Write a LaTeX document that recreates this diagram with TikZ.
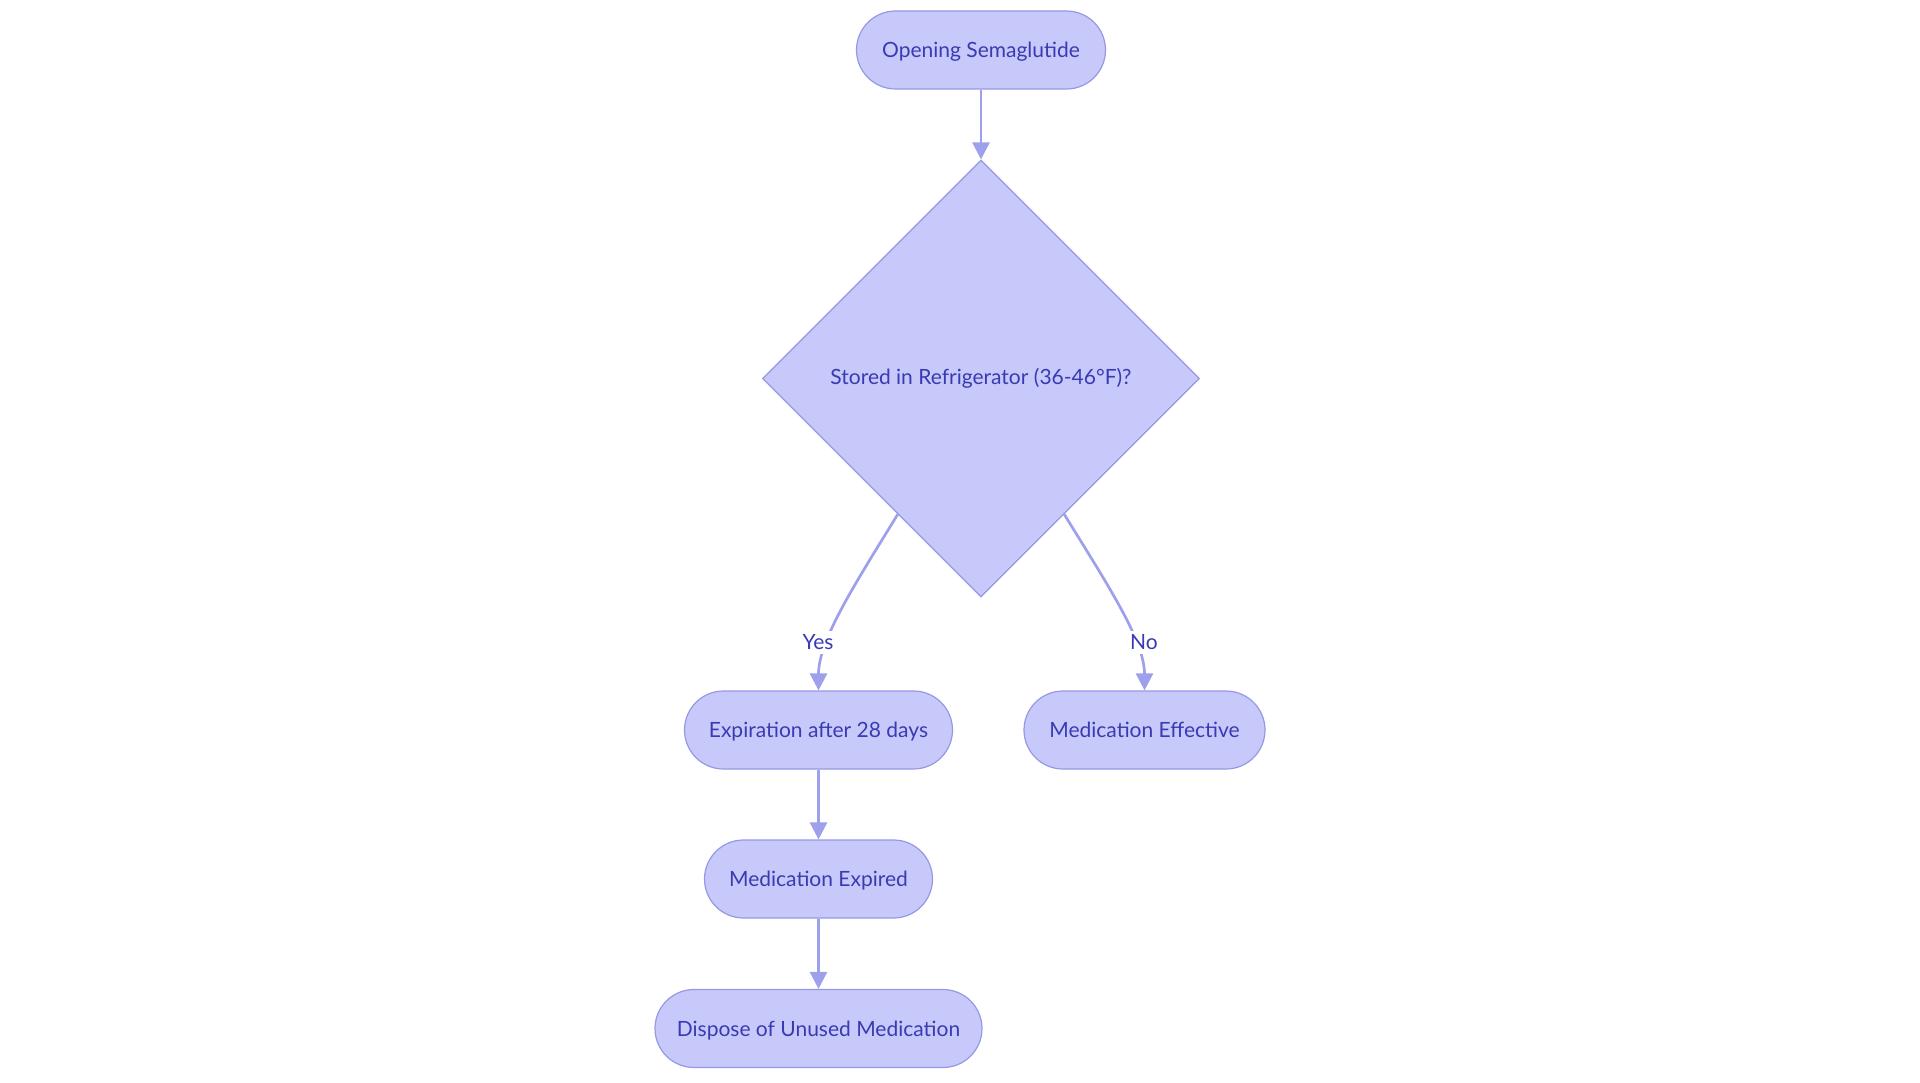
\documentclass[tikz,border=0pt]{standalone}
\usepackage{fontspec}
\setmainfont{Lato}
\usetikzlibrary{shapes.geometric,arrows.meta,calc}
\definecolor{nodefill}{RGB}{199,201,250}
\definecolor{nodeborder}{RGB}{150,152,228}
\definecolor{edgecol}{RGB}{158,160,236}
\definecolor{txtcol}{RGB}{58,58,178}
\tikzset{
  stadium/.style={draw=nodeborder, fill=nodefill, line width=1.2pt, rounded corners=39pt,
    minimum height=78pt, inner sep=0pt, text height=17pt, text depth=2pt, text=txtcol, font=\fontsize{21pt}{25pt}\selectfont},
  decision/.style={diamond, aspect=1, draw=nodeborder, fill=nodefill, line width=1.2pt,
    minimum width=437pt, minimum height=437pt, inner sep=0pt, text=txtcol, font=\fontsize{21pt}{25pt}\selectfont},
  edge/.style={draw=edgecol, line width=2.7pt, -{Triangle[length=17pt,width=17pt]}},
  lbl/.style={fill=white, inner sep=2pt, text height=17pt, text depth=2pt, text=txtcol, font=\fontsize{21pt}{25pt}\selectfont}
}
\begin{document}
\begin{tikzpicture}[x=1pt,y=-1pt]
\useasboundingbox (0,0) rectangle (1920,1083);
\node[stadium, minimum width=249pt] (open) at (981,50) {Opening Semaglutide};
\node[decision] (dia) at (981,378.5) {Stored in Refrigerator (36-46°F)?};
\node[stadium, minimum width=268pt] (exp) at (818.5,730) {Expiration after 28 days};
\node[stadium, minimum width=241pt] (eff) at (1144.5,730) {Medication Effective};
\node[stadium, minimum width=228pt] (expd) at (818.5,879) {Medication Expired};
\node[stadium, minimum width=327pt] (disp) at (818.5,1028.5) {Dispose of Unused Medication};
\coordinate (ys) at ($(dia.west)!0.62!(dia.south)$);
\coordinate (ns) at ($(dia.east)!0.62!(dia.south)$);
\draw[edge] (open.south) -- (dia.north);
\draw[edge] (ys) .. controls ($(ys)+(-43,70)$) and ($(exp.north)+(0,-50)$) .. (exp.north);
\draw[edge] (ns) .. controls ($(ns)+(43,70)$) and ($(eff.north)+(0,-50)$) .. (eff.north);
\draw[edge] (exp.south) -- (expd.north);
\draw[edge] (expd.south) -- (disp.north);
\node[lbl] (yes) at (818,642) {Yes};
\node[lbl] (no) at (1144,642) {No};
\end{tikzpicture}
\end{document}
